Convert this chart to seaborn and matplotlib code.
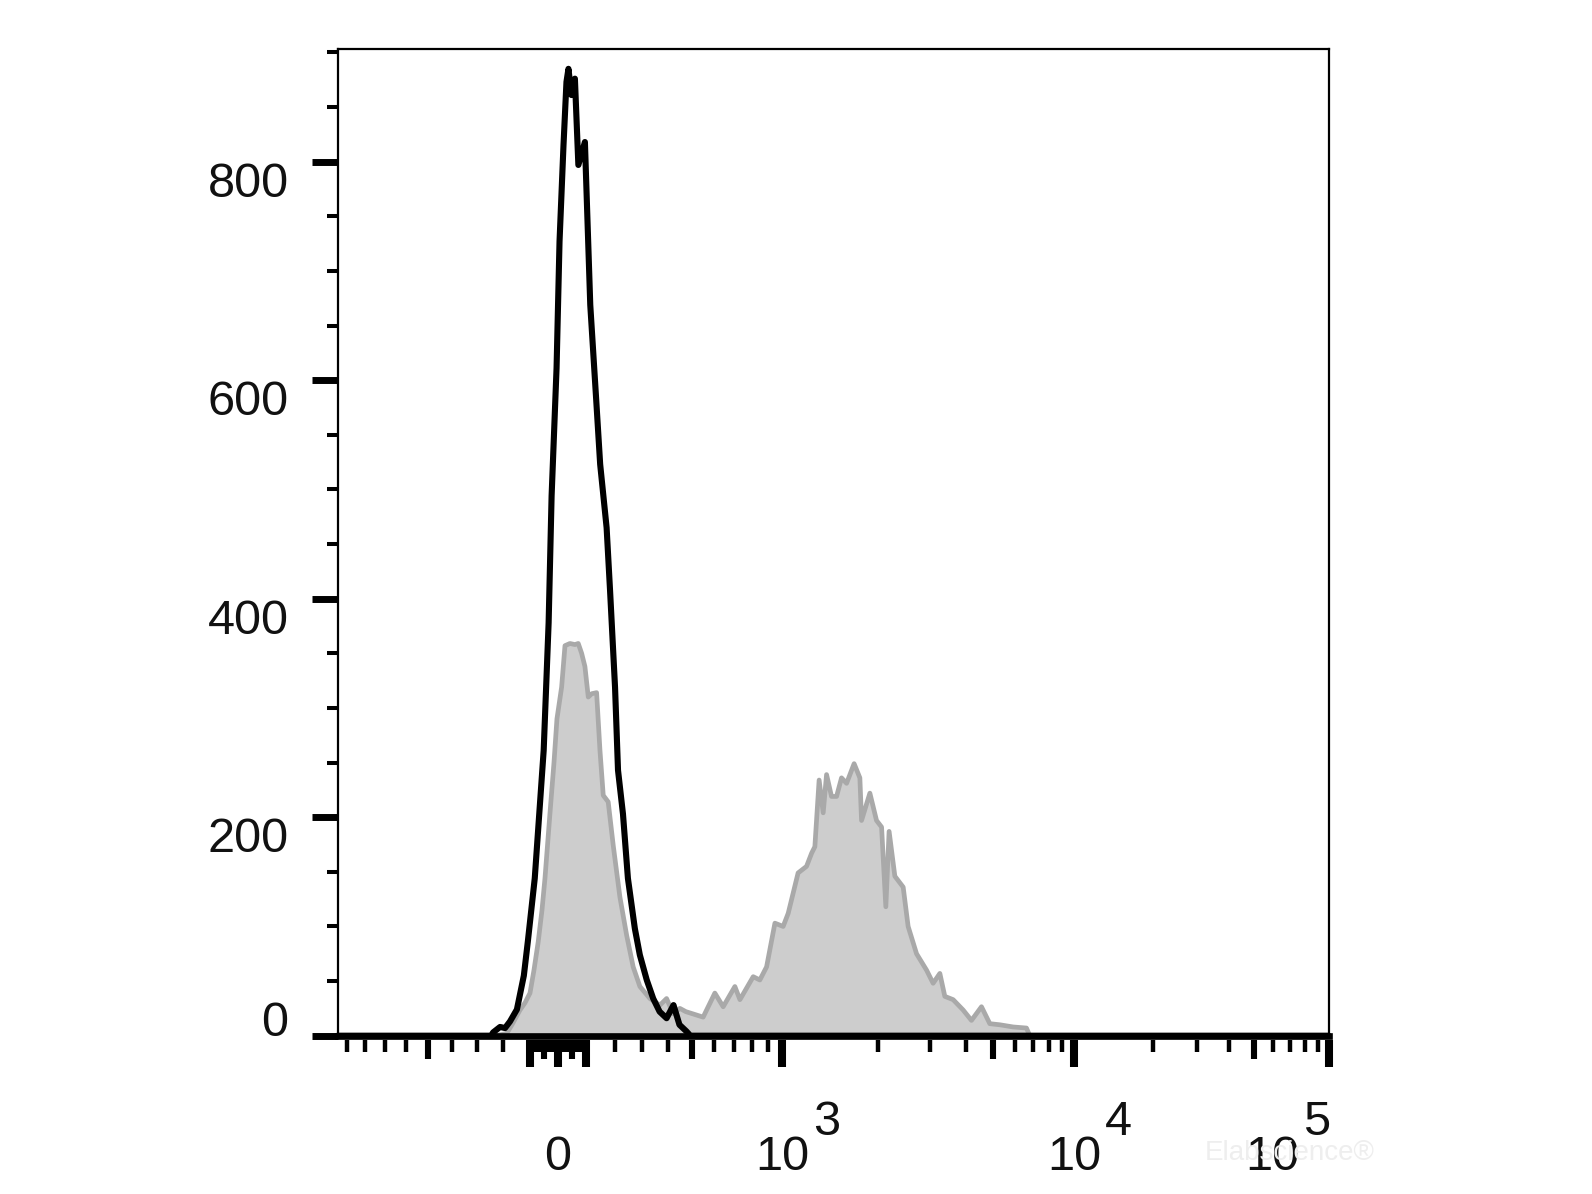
import numpy as np
import matplotlib
matplotlib.use("Agg")
import matplotlib.pyplot as plt
import matplotlib.transforms as mtransforms
from matplotlib.ticker import FixedLocator, NullLocator
import seaborn as sns

# ---------------- data ----------------
# channel = position on the biexponential display scale (0..1000 across the axis)
black_channel = [0, 155, 157, 164, 169, 174, 181, 188, 192, 199, 208, 213, 216, 221, 224, 228,
                 231, 233, 236, 239.5, 243, 249.6, 255, 261, 265, 271.5, 275, 280, 283, 288,
                 293, 300, 305, 312, 318.5, 325, 332, 339, 345, 352, 356, 1000]
black_count = [0, 0, 3, 8, 7, 13, 24, 55, 86, 144, 261, 378, 494, 611, 727, 815,
               873, 885, 861, 876, 797, 818, 669, 582, 523, 465, 407, 319, 243, 203,
               144, 98, 74, 51, 34, 22, 16, 28, 10, 4, 0, 0]

gray_channel = [0, 158.9, 170.7, 176.0, 184.1, 189.1, 194.2, 198.2, 202.5, 206.3, 209.3, 214.3,
                218.4, 221.4, 226.1, 229.5, 234.5, 239.5, 242.9, 246.3, 249.6, 253.0, 256.4,
                261.4, 264.8, 268.1, 273.1, 278.2, 284.9, 291.7, 298.3, 305.1, 315.2, 325.3,
                332.0, 338.7, 345.4, 351.5, 358.5, 368.9, 380.7, 389.1, 400.9, 406.0, 419.4,
                426.1, 432.9, 441.3, 449.6, 454.7, 464.7, 473.2, 478.3, 481.6, 485.9, 490.0,
                493.4, 498.4, 503.5, 508.5, 513.6, 521.2, 527.0, 528.7, 537.1, 543.8, 548.9,
                553.2, 556.5, 562.3, 570.7, 575.7, 584.2, 594.3, 600.9, 607.7, 612.7, 621.1,
                631.2, 639.6, 649.7, 658.1, 668.2, 681.6, 695.1, 698.4, 1000]
gray_count = [0, 0, 2, 10, 23.5, 30, 39, 60, 86, 115, 144, 203,
              250, 290, 319, 357, 359, 358, 359, 350, 338, 310, 313,
              314, 261, 220, 214, 174, 127, 92, 63, 45, 34, 28,
              34, 20, 25, 22, 20, 17, 39, 26.5, 45, 33, 54,
              51, 63, 103, 100, 112, 149, 155, 167, 173, 234, 204,
              239, 219, 219, 236, 231, 249, 236, 197, 222, 197, 191,
              118, 187, 146, 136, 100, 75, 60, 48, 57, 36, 33,
              23.5, 14, 26.5, 11, 10, 8, 7, 0, 0]

y_major = [0, 200, 400, 600, 800]
y_minor = [50, 100, 150, 250, 300, 350, 450, 500, 550, 650, 700, 750, 850, 900]
x_major = [-100, 0, 100, 1e3, 1e4, 1e5]
x_medium = [-500, -50, 50, 500, 5e3, 5e4]
x_minor = ([-900, -800, -700, -600, -400, -300, -200]
           + [-90, -80, -70, -60, -40, -30, -20, -10, 10, 20, 30, 40, 60, 70, 80, 90]
           + [200, 300, 400, 600, 700, 800, 900]
           + [2e3, 3e3, 4e3, 6e3, 7e3, 8e3, 9e3]
           + [2e4, 3e4, 4e4, 6e4, 7e4, 8e4, 9e4])
x_labels = [(0, "0", None), (1e3, "10", "3"), (1e4, "10", "4"), (1e5, "10", "5")]

# ---------------- biexponential display transform ----------------
BA, BB, BC, BD, BF = 10.06, 9.194, 1795.0, 3.041, 835.0


def biex(y):
    y = np.asarray(y, dtype=float)
    return BA * np.exp(BB * y) - BC * np.exp(-BD * y) + BF


_grid = np.linspace(-0.3, 1.3, 40001)
_vals = biex(_grid)


def fwd(v):
    return np.interp(np.asarray(v, dtype=float), _vals, _grid)


def inv(y):
    return biex(y)


XMIN, XMAX = float(biex(0.0)), 1e5
YMAX = 903.6

# ---------------- figure ----------------
sns.set_style("white")
plt.rcParams["font.family"] = ["Liberation Sans", "DejaVu Sans"]

fig = plt.figure(figsize=(15.92, 11.94), dpi=100)
pos = [0.2120, 0.13258, 0.6228, 0.8268]
ax = fig.add_axes(pos)
ax.set_xscale("function", functions=(fwd, inv))

bx = biex(np.array(black_channel) / 1000.0)
gx = biex(np.array(gray_channel) / 1000.0)

ax.fill_between(gx, gray_count, 0, color="#cdcdcd", lw=0, zorder=1)
sns.lineplot(x=gx, y=gray_count, ax=ax, color="#a9a9a9", lw=3.4, estimator=None,
             sort=False, zorder=2)
sns.lineplot(x=bx, y=black_count, ax=ax, color="black", lw=4.4, estimator=None,
             sort=False, zorder=3)
ax.lines[-1].set_clip_on(False)

ax.set_xlim(XMIN, XMAX)
ax.set_ylim(0, YMAX)
ax.set_xlabel("")
ax.set_ylabel("")

for s in ["top", "right", "left"]:
    ax.spines[s].set_linewidth(1.6)
    ax.spines[s].set_color("black")
ax.spines["bottom"].set_linewidth(4.8)
ax.spines["bottom"].set_color("black")

# y ticks
ax.yaxis.set_major_locator(FixedLocator(y_major))
ax.yaxis.set_minor_locator(FixedLocator(y_minor))
ax.set_yticklabels([str(v) for v in y_major])
ax.tick_params(axis="y", which="major", direction="out", length=18.7, width=5.0,
               pad=16.5, labelsize=35, colors="black", left=True)
ax.tick_params(axis="y", which="minor", direction="out", length=7.9, width=2.9,
               left=True, color="black")
for lbl, v in zip(ax.get_yticklabels(), y_major):
    lbl.set_va("baseline" if v == 0 else "top")
    lbl.set_color("#111111")
ax.tick_params(axis="x", which="both", bottom=False, labelbottom=False)
ax.xaxis.set_minor_locator(NullLocator())


def tick_axes(major, minor, maj_len, maj_w, min_len, min_w):
    t = fig.add_axes(pos)
    t.set_xscale("function", functions=(fwd, inv))
    t.set_xlim(XMIN, XMAX)
    t.patch.set_visible(False)
    for s in t.spines.values():
        s.set_visible(False)
    t.spines["bottom"].set_position(("outward", 3.1))
    t.set_yticks([])
    t.xaxis.set_major_locator(FixedLocator(major))
    t.xaxis.set_minor_locator(FixedLocator(minor) if minor else NullLocator())
    t.tick_params(axis="x", which="major", direction="out", length=maj_len, width=maj_w,
                  bottom=True, top=False, labelbottom=False, color="black")
    t.tick_params(axis="x", which="minor", direction="out", length=min_len, width=min_w,
                  bottom=True, top=False, color="black")
    return t


tick_axes(x_major, x_minor, 19.7, 5.8, 8.4, 3.2)
tick_axes(x_medium, None, 13.9, 4.4, 0, 0)

# x labels: base "10" centred on the tick, exponent raised at full size
blend = mtransforms.blended_transform_factory(ax.transData, ax.transAxes)


def off(dx_px, dy_px):
    return blend + mtransforms.ScaledTranslation(dx_px / 100.0, dy_px / 100.0,
                                                 fig.dpi_scale_trans)


for val, base, exp in x_labels:
    shift = -57 if val == 1e5 else 0
    ax.text(val, 0, base, transform=off(shift, -134.3), ha="center", va="baseline",
            fontsize=35, color="#111111", clip_on=False)
    if exp:
        ax.text(val, 0, exp, transform=off(shift + 31, -99.3), ha="left",
                va="baseline", fontsize=35, color="#111111", clip_on=False)

# faint watermark
fig.text(1290 / 1592, 1 - 1153 / 1194, "Elabscience\u00ae", fontsize=20, color="#eeeeee",
         ha="center", va="center", zorder=0)

fig.savefig("out.png", dpi=100)
